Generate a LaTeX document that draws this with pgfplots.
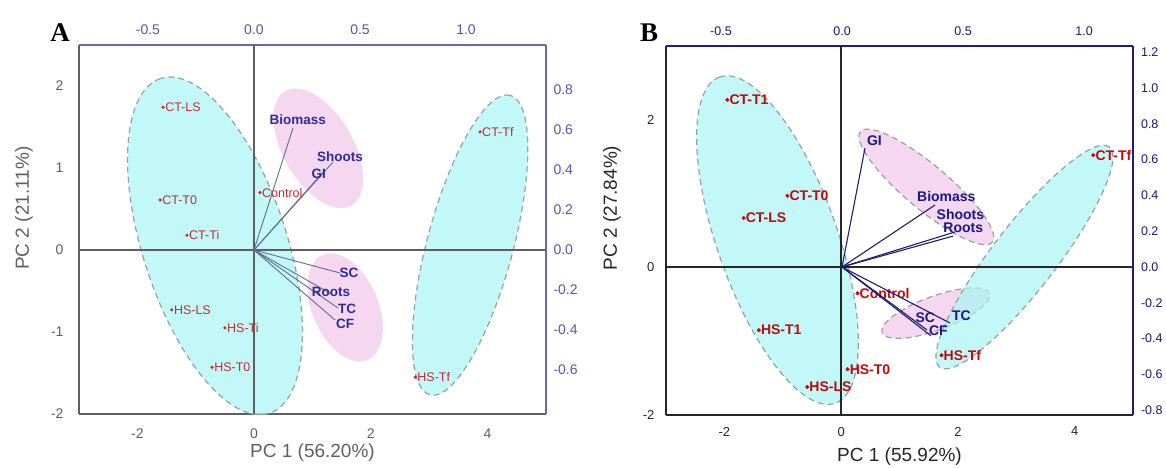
\documentclass[border=0pt]{standalone}
\usepackage{pgfplots}
\pgfplotsset{compat=1.18}
\usepackage{fontspec}
\setmainfont{Liberation Sans}
\newfontfamily\letterfont{Liberation Serif}

\definecolor{cyanfill}{RGB}{169,245,245}
\definecolor{pinkfill}{RGB}{241,198,234}
\definecolor{dashgray}{RGB}{150,160,165}
\definecolor{agray}{RGB}{95,95,95}
\definecolor{aframe}{RGB}{105,105,170}
\definecolor{atick}{RGB}{85,85,165}
\definecolor{ared}{RGB}{195,45,50}
\definecolor{ablue}{RGB}{45,45,150}
\definecolor{avec}{RGB}{95,110,145}
\definecolor{bnavy}{RGB}{30,30,130}
\definecolor{bred}{RGB}{190,10,10}
\definecolor{bblue}{RGB}{25,25,130}
\definecolor{bvec}{RGB}{30,30,105}

\pgfplotsset{
  base/.style={scale only axis, width=467pt, height=369pt, anchor=south west,
    major tick length=0pt, clip=false,
    /pgf/number format/assume math mode=true},
}
\tikzset{ell/.style={fill opacity=0.7},
  edash/.style={draw=dashgray, line width=1.2pt, dash pattern=on 6pt off 4pt}}

\begin{document}
\begin{tikzpicture}
\useasboundingbox (0,0) rectangle (1166pt,468pt);

% ---------------- panel A, scores ----------------
\begin{axis}[base, at={(79pt,54pt)},
  xmin=-3, xmax=5, ymin=-2, ymax=2.5,
  axis x line*=bottom, axis y line*=left,
  axis line style={draw=agray, line width=1.4pt, -},
  xtick={-2,0,2,4}, ytick={-2,-1,0,1,2},
  ticklabel style={font=\fontsize{14}{16}\selectfont, text=agray},
  xticklabel style={yshift=-11pt}, yticklabel style={xshift=-12pt},
  xlabel={PC 1 (56.20\%)}, ylabel={PC 2 (21.11\%)},
  label style={font=\fontsize{19}{21}\selectfont, text=agray},
  xlabel style={at={(axis description cs:0.5,0)}, anchor=center, yshift=-39pt},
  ylabel style={at={(axis description cs:-0.118,0.558)}, anchor=center},
]
\filldraw[ell, fill=cyanfill, edash,
  rotate around={108:(axis cs:-0.67,0.05)}] (axis cs:-0.67,0.05) ellipse[x radius=176pt, y radius=72pt];
\filldraw[ell, fill=cyanfill, edash,
  rotate around={75:(axis cs:3.70,0.06)}] (axis cs:3.70,0.06) ellipse[x radius=155pt, y radius=43pt];
\fill[ell, fill=pinkfill,
  rotate around={120:(axis cs:1.10,1.24)}] (axis cs:1.10,1.24) ellipse[x radius=66pt, y radius=35pt];
\fill[ell, fill=pinkfill,
  rotate around={113:(axis cs:1.56,-0.70)}] (axis cs:1.56,-0.70) ellipse[x radius=57pt, y radius=33pt];
\addplot[agray, line width=1.4pt] coordinates {(-3,0) (5,0)};
\addplot[agray, line width=1.4pt] coordinates {(0,-2) (0,2.5)};
\addplot[only marks, mark=*, mark size=1.4pt, ared,
  point meta=explicit symbolic, nodes near coords,
  every node near coord/.append style={anchor=west, inner sep=0.5pt, xshift=1.5pt,
    font=\fontsize{12.5}{13}\selectfont, text=ared}]
  table[meta=lab] {
x y lab
-1.56 1.74 CT-LS
-1.61 0.61 CT-T0
-1.15 0.18 CT-Ti
0.10 0.70 Control
-1.41 -0.73 HS-LS
-0.50 -0.95 HS-Ti
-0.72 -1.43 HS-T0
3.87 1.44 CT-Tf
2.76 -1.55 HS-Tf
};
\end{axis}

% ---------------- panel A, loadings ----------------
\begin{axis}[base, at={(79pt,54pt)},
  xmin=-0.825, xmax=1.377, ymin=-0.82, ymax=1.025,
  axis x line*=top, axis y line*=right,
  axis line style={draw=aframe, line width=1.2pt, -},
  xtick={-0.5,0,0.5,1}, ytick={-0.6,-0.4,-0.2,0,0.2,0.4,0.6,0.8},
  /pgf/number format/.cd, fixed, fixed zerofill, precision=1, /pgfplots/.cd,
  ticklabel style={font=\fontsize{14}{16}\selectfont, text=atick},
  xticklabel style={yshift=7pt}, yticklabel style={xshift=4pt},
]
\addplot[avec, line width=0.9pt] coordinates {(0,0) (0.184,0.61)};
\addplot[avec, line width=0.9pt] coordinates {(0,0) (0.373,0.44)};
\addplot[avec, line width=0.9pt] coordinates {(0,0) (0.335,0.40)};
\addplot[avec, line width=0.9pt] coordinates {(0,0) (0.406,-0.115)};
\addplot[avec, line width=0.9pt] coordinates {(0,0) (0.373,-0.225)};
\addplot[avec, line width=0.9pt] coordinates {(0,0) (0.396,-0.29)};
\addplot[avec, line width=0.9pt] coordinates {(0,0) (0.382,-0.35)};
\begin{scope}[every node/.style={font=\bfseries\fontsize{13.5}{15}\selectfont, text=ablue, inner sep=0pt}]
\node at (axis cs:0.207,0.65) {Biomass};
\node at (axis cs:0.406,0.465) {Shoots};
\node at (axis cs:0.306,0.38) {GI};
\node at (axis cs:0.448,-0.115) {SC};
\node at (axis cs:0.363,-0.21) {Roots};
\node at (axis cs:0.439,-0.295) {TC};
\node at (axis cs:0.43,-0.37) {CF};
\end{scope}
\end{axis}

% ---------------- panel B, scores ----------------
\begin{axis}[base, at={(666pt,53pt)},
  xmin=-3, xmax=5, ymin=-2, ymax=3,
  axis x line*=bottom, axis y line*=left,
  axis line style={draw=black!85, line width=1.8pt, -},
  xtick={-2,0,2,4}, ytick={-2,0,2},
  ticklabel style={font=\fontsize{13}{15}\selectfont, text=black!85},
  xticklabel style={yshift=-8.5pt}, yticklabel style={xshift=-8pt},
  xlabel={PC 1 (55.92\%)}, ylabel={PC 2 (27.84\%)},
  label style={font=\fontsize{19}{21}\selectfont, text=black!85},
  xlabel style={at={(axis description cs:0.5,0)}, anchor=center, yshift=-42pt},
  ylabel style={at={(axis description cs:-0.1156,0.561)}, anchor=center},
]
\filldraw[ell, fill=pinkfill, edash,
  rotate around={140:(axis cs:1.46,1.09)}] (axis cs:1.46,1.09) ellipse[x radius=86pt, y radius=22pt];
\filldraw[ell, fill=pinkfill, edash,
  rotate around={20:(axis cs:1.62,-0.62)}] (axis cs:1.62,-0.62) ellipse[x radius=57pt, y radius=17pt];
\filldraw[ell, fill=cyanfill, edash,
  rotate around={109.5:(axis cs:-1.09,0.37)}] (axis cs:-1.09,0.37) ellipse[x radius=173pt, y radius=60pt];
\filldraw[ell, fill=cyanfill, edash,
  rotate around={52.4:(axis cs:3.14,0.14)}] (axis cs:3.14,0.14) ellipse[x radius=139pt, y radius=32pt];
\addplot[black!85, line width=2pt] coordinates {(-3,0) (5,0)};
\addplot[black!85, line width=2pt] coordinates {(0,-2) (0,3)};
\addplot[only marks, mark=*, mark size=1.8pt, bred,
  point meta=explicit symbolic, nodes near coords,
  every node near coord/.append style={anchor=west, inner sep=0.5pt, xshift=1.5pt,
    font=\bfseries\fontsize{14}{15}\selectfont, text=bred}]
  table[meta=lab] {
x y lab
-1.95 2.27 CT-T1
-0.92 0.97 CT-T0
-1.67 0.67 CT-LS
0.28 -0.35 Control
-1.41 -0.85 HS-T1
0.11 -1.38 HS-T0
-0.58 -1.62 HS-LS
4.32 1.52 CT-Tf
1.72 -1.19 HS-Tf
};
\end{axis}

% ---------------- panel B, loadings ----------------
\begin{axis}[base, at={(666pt,53pt)},
  xmin=-0.727, xmax=1.202, ymin=-0.827, ymax=1.235,
  axis x line*=top, axis y line*=right,
  axis line style={draw=bnavy, line width=2.2pt, -},
  xtick={-0.5,0,0.5,1}, ytick={-0.8,-0.6,-0.4,-0.2,0,0.2,0.4,0.6,0.8,1.0,1.2},
  /pgf/number format/.cd, fixed, fixed zerofill, precision=1, /pgfplots/.cd,
  ticklabel style={font=\fontsize{12.5}{14}\selectfont, text=bnavy!80!black},
  xticklabel style={yshift=6.5pt}, yticklabel style={xshift=4.5pt},
]
\addplot[bvec, line width=1.1pt] coordinates {(0,0) (0.095,0.665)};
\addplot[bvec, line width=1.1pt] coordinates {(0,0) (0.384,0.346)};
\addplot[bvec, line width=1.1pt] coordinates {(0,0) (0.467,0.196)};
\addplot[bvec, line width=1.1pt] coordinates {(0,0) (0.459,0.173)};
\addplot[bvec, line width=1.1pt] coordinates {(0,0) (0.351,-0.352)};
\addplot[bvec, line width=1.1pt] coordinates {(0,0) (0.368,-0.385)};
\addplot[bvec, line width=1.1pt] coordinates {(0,0) (0.446,-0.313)};
\begin{scope}[every node/.style={font=\bfseries\fontsize{14}{15}\selectfont, text=bblue, inner sep=0pt}]
\node at (axis cs:0.134,0.706) {GI};
\node at (axis cs:0.431,0.393) {Biomass};
\node at (axis cs:0.489,0.293) {Shoots};
\node at (axis cs:0.501,0.22) {Roots};
\node at (axis cs:0.344,-0.283) {SC};
\node at (axis cs:0.398,-0.355) {CF};
\node at (axis cs:0.493,-0.271) {TC};
\end{scope}
\end{axis}

\node[font=\letterfont\bfseries\fontsize{27}{28}\selectfont] at (60pt,435pt) {A};
\node[font=\letterfont\bfseries\fontsize{27}{28}\selectfont] at (649pt,435pt) {B};
\end{tikzpicture}
\end{document}
